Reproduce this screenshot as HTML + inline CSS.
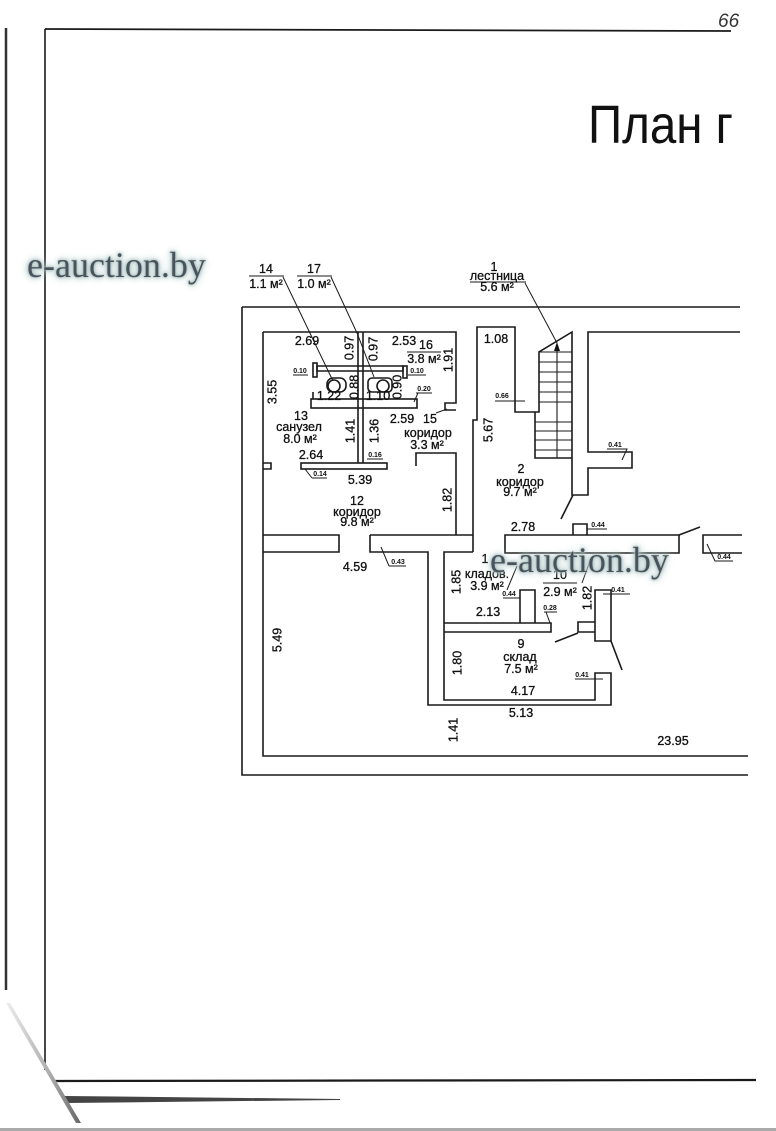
<!DOCTYPE html>
<html><head><meta charset="utf-8">
<style>
html,body{margin:0;padding:0;background:#fff;}
body{width:776px;height:1131px;position:relative;overflow:hidden;}
svg{position:absolute;left:0;top:0;}
.wm{position:absolute;font-family:"Liberation Serif",serif;font-size:36px;color:#4a535b;white-space:nowrap;line-height:1;
text-shadow:0 0 2px #9db5b5,0 0 4px #a9c2c2,0 0 7px #b7cccc,0 0 11px #c9d9d9;}
.t{font-family:"Liberation Sans",sans-serif;font-size:12.5px;fill:#111;stroke:#111;stroke-width:0.3;text-anchor:middle;}
.s{font-family:"Liberation Sans",sans-serif;font-size:7px;font-weight:bold;fill:#111;text-anchor:middle;}
</style></head><body>
<svg width="776" height="1131" viewBox="0 0 776 1131" xmlns="http://www.w3.org/2000/svg">
<defs>
<linearGradient id="dg" x1="0" y1="0" x2="1" y2="0">
<stop offset="0" stop-color="#eeeeee"/><stop offset="0.6" stop-color="#aaa"/><stop offset="1" stop-color="#666"/>
</linearGradient>
</defs>

<!-- page frame -->
<g fill="none" stroke="#1a1a1a">
<path d="M6 28 V990" stroke="#333" stroke-width="2.5"/>
<path d="M45 29 L731 31" stroke-width="1.8"/>
<path d="M45 29 V1070" stroke-width="1.6"/>
<path d="M54 1081 L756 1080" stroke-width="2.2"/>
</g>
<polygon points="65,1096 340,1099 340,1100 65,1103" fill="#444"/>
<polygon points="6,1003 10,1003 81,1123 76,1123" fill="url(#dg)"/>
<rect x="0" y="1128" width="776" height="3" fill="#aaa"/>

<text x="718" y="27" font-size="19" font-family="Liberation Sans" font-style="italic" fill="#333">66</text>
<text x="588" y="143" font-size="54" font-family="Liberation Sans" fill="#111" textLength="145" lengthAdjust="spacingAndGlyphs">План г</text>

<!-- plan walls -->
<g fill="none" stroke="#1a1a1a" stroke-width="1.6">
<path d="M242 307 H740"/>
<path d="M242 307 V775 H748"/>
<path d="M263 332 V756 H748"/>
<path d="M263 332 H456 V403 H445 V410 H456"/>
<path d="M358 332 V463"/>
<path d="M363 332 V463"/>
<!-- sanuzel partitions -->
<path d="M317 366 H403 V371 H317 Z"/>
<rect x="313" y="363" width="4" height="14"/>
<rect x="403" y="366" width="4" height="12"/>
<rect x="311" y="399" width="106" height="9"/>
<path d="M313 399 V392"/>
<rect x="301" y="463" width="86" height="6"/>
<path d="M263 463 H271 V469 H263"/>
<!-- toilets -->
<rect x="327" y="378" width="19" height="14" rx="6"/>
<circle cx="334" cy="386" r="6"/>
<rect x="368" y="378" width="24" height="14" rx="4"/>
<circle cx="383" cy="386" r="6"/>
<!-- corridor 15 / 12 -->
<path d="M416 466 V453 H456 V535"/>
<path d="M263 535 H339 V552 H263"/>
<path d="M370 535 H473"/>
<path d="M370 535 V552 H428 V705 H611 V673 H595 V700 H444 V552 H473"/>
<!-- corridor 2 and stairs -->
<path d="M473 552 V420 H477 V327 H515 V412 H539 V352 L572 332 V495 H588 V468 H632 V452 H588 V332 H740"/>
<path d="M535 412 V458 H572"/>
<path d="M539 352 H572 M539 362 H572 M539 372 H572 M539 382 H572 M539 392 H572 M539 402 H572 M535 422 H572 M535 431 H572 M535 440 H572 M535 450 H572" stroke-width="1.1"/>
<path d="M557 348 V458" stroke-width="1.1"/>
<path d="M573 495 L561 519"/>
<path d="M505 535 H679 V553 H505 Z"/>
<path d="M573 535 V524 H587 V535"/>
<path d="M679 535 L700 527"/>
<path d="M742 535 H703 V553 H742"/>
<!-- kladov / sklad -->
<path d="M444 623 H551 V632 H444"/>
<path d="M520 623 V590 H535 V623"/>
<path d="M595 590 H611 V641 H595 Z"/>
<path d="M595 622 H578 V632 H595"/>
<path d="M578 633 L555 642"/>
<path d="M611 641 L622 670"/>
</g>
<path d="M554 351 L557 342 L560 351 Z" fill="#111"/>

<!-- leaders & underlines -->
<g fill="none" stroke="#1a1a1a" stroke-width="1">
<path d="M249 276 H284 M297 276 H332 M470 282 H526 M407 352 H441 M543 583 H577"/>
<path d="M283 277 L333 381"/>
<path d="M331 277 L357 333 L374 377"/>
<path d="M525 283 L557 343"/>
<path d="M436 413 L447 409"/>
<path d="M507 590 L517 566"/>
<path d="M582 583 L590 561"/>
<path d="M503 598 H520"/>
<path d="M544 612 H557 M546 612 L550 623"/>
<path d="M603 594 H630"/>
<path d="M575 679 H603"/>
<path d="M389 566 H406 M381 547 L389 566"/>
<path d="M587 529 H607"/>
<path d="M707 544 L715 561 H733"/>
<path d="M607 449 H627 L622 460"/>
<path d="M495 401 H525"/>
<path d="M293 375 H308"/>
<path d="M408 375 H426"/>
<path d="M416 393 H432 M418 393 L414 402"/>
<path d="M367 459 H383"/>
<path d="M312 478 H327 M305 469 L312 478"/>
</g>

<!-- small labels -->
<text class="s" x="300" y="373">0.10</text>
<text class="s" x="417" y="373">0.10</text>
<text class="s" x="424" y="391">0.20</text>
<text class="s" x="375" y="457">0.16</text>
<text class="s" x="320" y="476">0.14</text>
<text class="s" x="502" y="398">0.66</text>
<text class="s" x="615" y="447">0.41</text>
<text class="s" x="598" y="527">0.44</text>
<text class="s" x="724" y="559">0.44</text>
<text class="s" x="398" y="564">0.43</text>
<text class="s" x="509" y="596">0.44</text>
<text class="s" x="550" y="610">0.28</text>
<text class="s" x="618" y="592">0.41</text>
<text class="s" x="582" y="677">0.41</text>

<!-- horizontal labels -->
<text class="t" x="266" y="273">14</text>
<text class="t" x="266" y="288">1.1 м²</text>
<text class="t" x="314" y="273">17</text>
<text class="t" x="314" y="288">1.0 м²</text>
<text class="t" x="494" y="271">1</text>
<text class="t" x="497" y="280">лестница</text>
<text class="t" x="497" y="291">5.6 м²</text>
<text class="t" x="307" y="345">2.69</text>
<text class="t" x="404" y="345">2.53</text>
<text class="t" x="426" y="349">16</text>
<text class="t" x="424" y="363">3.8 м²</text>
<text class="t" x="329" y="400">1.22</text>
<text class="t" x="378" y="400">1.10</text>
<text class="t" x="301" y="420">13</text>
<text class="t" x="299" y="431">санузел</text>
<text class="t" x="300" y="443">8.0 м²</text>
<text class="t" x="402" y="423">2.59</text>
<text class="t" x="430" y="423">15</text>
<text class="t" x="428" y="437">коридор</text>
<text class="t" x="427" y="449">3.3 м²</text>
<text class="t" x="311" y="459">2.64</text>
<text class="t" x="360" y="484">5.39</text>
<text class="t" x="357" y="505">12</text>
<text class="t" x="357" y="516">коридор</text>
<text class="t" x="357" y="526">9.8 м²</text>
<text class="t" x="496" y="343">1.08</text>
<text class="t" x="521" y="473">2</text>
<text class="t" x="520" y="486">коридор</text>
<text class="t" x="520" y="496">9.7 м²</text>
<text class="t" x="523" y="531">2.78</text>
<text class="t" x="355" y="571">4.59</text>
<text class="t" x="485" y="563">1</text>
<text class="t" x="487" y="578">кладов.</text>
<text class="t" x="487" y="590">3.9 м²</text>
<text class="t" x="560" y="579">10</text>
<text class="t" x="560" y="596">2.9 м²</text>
<text class="t" x="488" y="616">2.13</text>
<text class="t" x="521" y="648">9</text>
<text class="t" x="520" y="661">склад</text>
<text class="t" x="521" y="673">7.5 м²</text>
<text class="t" x="523" y="695">4.17</text>
<text class="t" x="521" y="717">5.13</text>
<text class="t" x="673" y="745">23.95</text>

<!-- vertical labels -->
<text class="t" transform="translate(349,348) rotate(-90)" dy="4.5">0.97</text>
<text class="t" transform="translate(373,349) rotate(-90)" dy="4.5">0.97</text>
<text class="t" transform="translate(448,360) rotate(-90)" dy="4.5">1.91</text>
<text class="t" transform="translate(354,387) rotate(-90)" dy="4.5">0.88</text>
<text class="t" transform="translate(397,387) rotate(-90)" dy="4.5">0.90</text>
<text class="t" transform="translate(272,392) rotate(-90)" dy="4.5">3.55</text>
<text class="t" transform="translate(350,431) rotate(-90)" dy="4.5">1.41</text>
<text class="t" transform="translate(374,431) rotate(-90)" dy="4.5">1.36</text>
<text class="t" transform="translate(447,500) rotate(-90)" dy="4.5">1.82</text>
<text class="t" transform="translate(488,430) rotate(-90)" dy="4.5">5.67</text>
<text class="t" transform="translate(456,582) rotate(-90)" dy="4.5">1.85</text>
<text class="t" transform="translate(587,598) rotate(-90)" dy="4.5">1.82</text>
<text class="t" transform="translate(457,663) rotate(-90)" dy="4.5">1.80</text>
<text class="t" transform="translate(453,730) rotate(-90)" dy="4.5">1.41</text>
<text class="t" transform="translate(277,640) rotate(-90)" dy="4.5">5.49</text>
</svg>
<div class="wm" style="left:27px;top:247px;">e-auction.by</div>
<div class="wm" style="left:490px;top:542px;">e-auction.by</div>
</body></html>
